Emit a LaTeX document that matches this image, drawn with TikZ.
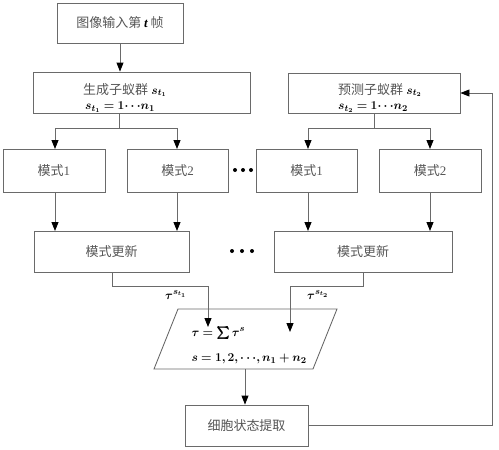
\documentclass[tikz,border=0pt]{standalone}
\usepackage{amsmath,bm}
\usepackage{fontspec}
\setmainfont{Liberation Serif}
\newfontfamily\cjk{Noto Sans CJK SC}
\usetikzlibrary{arrows.meta}
\definecolor{ln}{HTML}{6A6A6A}
\definecolor{tx}{HTML}{555555}
\begin{document}
\begin{tikzpicture}[x=1pt,y=-1pt,
  every node/.style={font=\fontsize{13}{15}\selectfont},
  box/.style={draw=ln, line width=0.9pt, inner sep=0pt, text=tx, font=\cjk\fontsize{13}{15}\selectfont, align=center},
  lbl/.style={inner sep=0pt, anchor=west},
  conn/.style={draw=ln, line width=0.9pt},
  arr/.style={conn, -{Triangle[length=9pt,width=7pt,color=black]}},
  dot/.style={fill=black, circle, inner sep=0pt, minimum size=4pt}]
\useasboundingbox (0,0) rectangle (499,450);
% boxes
\node[box, minimum width=126, minimum height=40] (in) at (120,23) {图像输入第 {\rmfamily\bfseries\itshape\color{black} t} 帧};
\node[box, minimum width=217, minimum height=41] (gen) at (141.5,92.5) {};
\node[lbl] (genA) at (83,90) {{\cjk\color{tx}生成子蚁群} $\bm{s_{t_1}}$};
\node[lbl] (genB) at (85,107) {$\bm{s_{t_1}=1\cdots n_1}$};
\node[box, minimum width=172, minimum height=40] (pre) at (374,93) {};
\node[lbl] (preA) at (338,90) {{\cjk\color{tx}预测子蚁群} $\bm{s_{t_2}}$};
\node[lbl] (preB) at (338,107) {$\bm{s_{t_2}=1\cdots n_2}$};
\node[box, minimum width=102, minimum height=43] (l1) at (54,170.5) {模式{\rmfamily 1}};
\node[box, minimum width=101, minimum height=43] (l2) at (177.5,170.5) {模式{\rmfamily 2}};
\node[box, minimum width=101, minimum height=43] (r1) at (306.5,170.5) {模式{\rmfamily 1}};
\node[box, minimum width=102, minimum height=43] (r2) at (430,170.5) {模式{\rmfamily 2}};
\node[box, minimum width=155, minimum height=41] (lu) at (111.5,251.5) {模式更新};
\node[box, minimum width=178, minimum height=41] (ru) at (363,251.5) {模式更新};
\node[box, minimum width=123, minimum height=41] (cell) at (246.5,425.5) {细胞状态提取};
% parallelogram
\coordinate (ptl) at (178,309);
\coordinate (ptr) at (337,309);
\coordinate (pbr) at (313,369);
\coordinate (pbl) at (154,369);
\draw[conn] (ptl) -- (ptr) -- (pbr) -- (pbl) -- cycle;
\node[anchor=west] (sum) at (188,333) {$\bm{\tau=\sum\tau^{s}}$};
\node[anchor=west] (rng) at (188,359) {$\bm{s=1,2,\cdots,n_1+n_2}$};
\coordinate (pin1) at (208,327);
\coordinate (pin2) at (290,332);
\coordinate (pout) at (245,369);
% dots
\node[dot] (d1) at (235,170) {};
\node[dot] (d2) at (243,170) {};
\node[dot] (d3) at (251,170) {};
\node[dot] (e1) at (232,251) {};
\node[dot] (e2) at (242,251) {};
\node[dot] (e3) at (252,251) {};
% connectors
\draw[arr] (in.south) -- (gen.north -| in.south);
\coordinate (gb) at (gen.south -| 119,0);
\draw[conn] (gb) -- (119,128);
\draw[conn] (55,128) -- (177,128);
\draw[arr] (55,128) -- (55,149);
\draw[arr] (177,128) -- (177,149);
\draw[conn] (pre.south) -- (pre.south |- 0,128);
\draw[conn] (308,128) -- (430,128);
\draw[arr] (308,128) -- (308,149);
\draw[arr] (430,128) -- (430,149);
\draw[arr] (55,192) -- (55,231);
\draw[arr] (177,192) -- (177,231);
\draw[arr] (308,192) -- (308,231);
\draw[arr] (430,192) -- (430,231);
\draw[arr] (lu.south -| 112,0) -- (112,286) -- (208,286) -- (pin1);
\draw[arr] (ru.south) -- (363,286) -- (290,286) -- (pin2);
\node[anchor=center] (t1) at (176,295) {$\bm{\tau^{s_{t_1}}}$};
\node[anchor=center] (t2) at (318,295) {$\bm{\tau^{s_{t_2}}}$};
\draw[arr] (pout) -- (cell.north -| pout);
\draw[arr] (cell.east) -- (492,425.5) -- (492,93) -- (pre.east);
\end{tikzpicture}
\end{document}
